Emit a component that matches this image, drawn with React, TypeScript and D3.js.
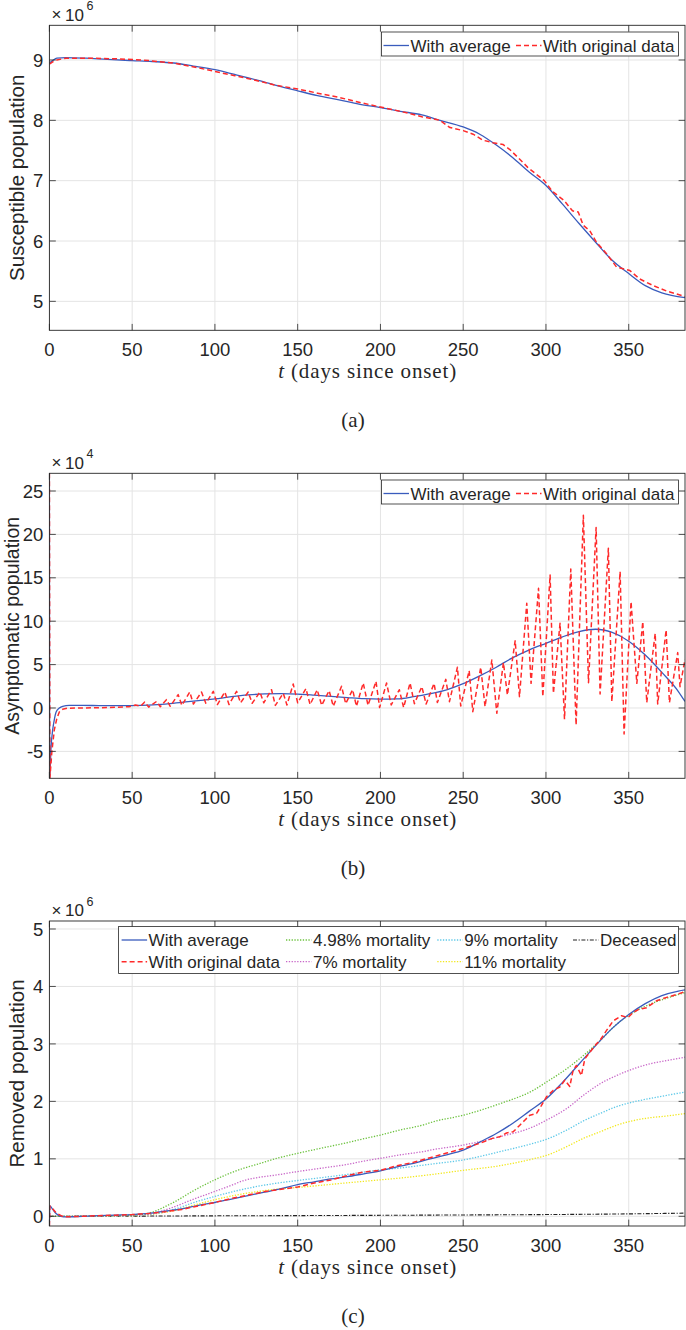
import React from 'react';
import * as d3 from 'd3';

// ---------- shared axis data ----------
const X_TICKS = [0, 50, 100, 150, 200, 250, 300, 350];
const X_MAX = 384;

// ---------- panel (a): susceptible (x10^6) ----------
const A_Y_TICKS = [5, 6, 7, 8, 9];
const A_AVG_T = [0, 2, 4.5, 10, 22, 35, 50, 62, 75, 87, 100, 112, 125, 137, 150, 162, 175, 187, 200, 212, 225, 236, 250, 260, 270, 280, 290, 300, 310, 320, 330, 340, 350, 360, 370, 384];
const A_AVG_V = [8.95, 8.99, 9.03, 9.04, 9.03, 9.01, 8.99, 8.975, 8.95, 8.9, 8.84, 8.76, 8.67, 8.58, 8.49, 8.41, 8.34, 8.27, 8.21, 8.15, 8.09, 8.0, 7.89, 7.77, 7.59, 7.38, 7.14, 6.92, 6.61, 6.29, 5.98, 5.68, 5.46, 5.26, 5.14, 5.06];
const A_ORIG_T = [0, 2, 4.5, 10, 25, 40, 50, 60, 75, 90, 100, 112, 125, 137, 150, 162, 175, 187, 200, 212, 225, 236, 242, 250, 256, 262, 268, 274, 278, 284, 289, 294, 299, 304, 311, 316, 319.5, 322.5, 326.5, 330.5, 336.6, 342.6, 346.6, 350.7, 356.7, 364.8, 372.9, 384];
const A_ORIG_V = [8.93, 8.97, 9.0, 9.03, 9.03, 9.02, 9.01, 8.99, 8.95, 8.87, 8.81, 8.74, 8.66, 8.58, 8.52, 8.45, 8.38, 8.3, 8.22, 8.15, 8.06, 8.0, 7.88, 7.83, 7.77, 7.67, 7.63, 7.6, 7.52, 7.36, 7.22, 7.11, 7.0, 6.82, 6.67, 6.5, 6.48, 6.26, 6.17, 5.98, 5.79, 5.57, 5.54, 5.51, 5.37, 5.26, 5.17, 5.08];

// ---------- panel (b): asymptomatic (x10^4) ----------
const B_Y_TICKS = [-5, 0, 5, 10, 15, 20, 25];
const B_AVG_T = [0, 0.2, 1, 2, 3, 4, 6, 8, 12, 20, 30, 40, 50, 60, 70, 80, 90, 100, 110, 120, 130, 140, 150, 160, 170, 180, 190, 200, 210, 220, 230, 240, 250, 260, 270, 280, 290, 300, 310, 320, 330, 340, 350, 360, 370, 380, 384];
const B_AVG_V = [27.04, -8.1, -4.5, -2.5, -1.3, -0.5, 0.0, 0.2, 0.3, 0.3, 0.28, 0.27, 0.28, 0.33, 0.45, 0.65, 0.85, 1.05, 1.3, 1.5, 1.62, 1.65, 1.6, 1.48, 1.34, 1.2, 1.07, 1.02, 1.05, 1.3, 1.65, 2.1, 2.8, 3.7, 4.7, 5.8, 6.7, 7.45, 8.2, 8.8, 9.07, 8.7, 7.7, 6.1, 4.1, 1.9, 0.75];
const B_ORIG_T = [0, 0.3, 1.5, 3, 4.5, 6, 8, 11, 20, 30, 40, 48, 52, 55, 57.6, 60, 64.7, 67, 70.7, 73, 77.8, 80, 84.8, 87, 91.9, 94.5, 99, 101.5, 106, 108.5, 113.1, 115.5, 120.1, 122.5, 127.2, 129.5, 134.2, 136.5, 141.3, 143.5, 147.3, 150, 155, 157.5, 161.8, 164.5, 169, 171.5, 176.5, 179, 183.2, 185.5, 189.6, 192.5, 197.3, 199.5, 203.7, 206.5, 211.4, 214, 217.9, 220.5, 225, 227.6, 232.4, 234.4, 239.5, 241.7, 246.5, 248.5, 253.6, 255.8, 260.6, 263.2, 267.3, 270.3, 274.3, 276.7, 281.4, 284, 288.4, 291, 295.5, 298.1, 302.5, 304.5, 308.5, 311.2, 315, 318.2, 322.6, 325.7, 330.3, 332.7, 337.7, 339.8, 344.8, 347.2, 351.4, 354.9, 358.5, 360.9, 366, 367.5, 372.6, 374.6, 379.6, 381, 384];
const B_ORIG_V = [27.04, -8.1, -5.0, -2.5, -1.2, -0.45, -0.15, -0.02, 0.0, 0.03, 0.08, 0.15, 0.35, 0.2, 0.69, 0.1, 0.75, 0.15, 0.96, 0.2, 1.54, 0.3, 1.84, 0.45, 1.84, 0.55, 1.92, 0.4, 1.84, 0.4, 1.92, 0.6, 1.84, 0.55, 1.84, 0.6, 2.11, 0.3, 1.7, 0.35, 2.76, 0.6, 2.23, 0.4, 2.1, 0.3, 2.0, 0.2, 2.5, 0.5, 2.1, 0.2, 2.88, 0.3, 3.07, 0.05, 2.88, 0.35, 2.1, 0.05, 2.88, 0.5, 2.46, 0.46, 2.84, 0.62, 3.3, 0.73, 4.69, 0.23, 4.3, -0.42, 4.69, 0.16, 5.53, -0.61, 5.23, 1.5, 7.76, 1.31, 12.06, 2.84, 13.79, 1.31, 15.32, 1.69, 9.76, -1.3, 16.0, -1.96, 22.2, 2.92, 20.8, 1.62, 18.4, 0.73, 15.7, -3.0, 12.25, 2.84, 9.95, 0.62, 8.6, 0.46, 9.0, 0.62, 6.38, 2.46, 5.6];

// ---------- panel (c): removed (x10^6) ----------
const C_Y_TICKS = [0, 1, 2, 3, 4, 5];
const C_AVG_T = [0, 0.3, 2, 4, 7, 10, 20, 30, 40, 50, 60, 70, 80, 90, 100, 110, 120, 130, 140, 150, 160, 170, 180, 190, 200, 210, 220, 230, 240, 250, 260, 270, 280, 290, 300, 310, 320, 330, 340, 350, 360, 370, 380, 384];
const C_AVG_V = [-0.17, 0.18, 0.12, 0.05, 0.0, -0.01, 0.0, 0.01, 0.02, 0.03, 0.05, 0.09, 0.13, 0.19, 0.24, 0.3, 0.36, 0.42, 0.48, 0.55, 0.6, 0.65, 0.69, 0.74, 0.79, 0.86, 0.92, 1.0, 1.07, 1.15, 1.29, 1.44, 1.62, 1.83, 2.04, 2.33, 2.65, 2.97, 3.27, 3.51, 3.7, 3.84, 3.92, 3.94];
const C_ORIG_T = [0, 0.3, 2, 4, 7, 10, 20, 40, 50, 60, 70, 80, 90, 100, 110, 120, 130, 140, 150, 160, 170, 180, 190, 200, 210, 220, 230, 240, 250, 260, 268, 272.2, 276.2, 280.2, 284.2, 287.2, 290.3, 294.3, 297.3, 300.3, 304.3, 308.4, 311.4, 314.4, 316.4, 318.4, 321.4, 323.5, 326.5, 330.5, 332.5, 336.5, 340.6, 345.6, 349.6, 352.7, 356, 360.8, 366.8, 372.9, 379, 384];
const C_ORIG_V = [-0.17, 0.18, 0.13, 0.06, 0.01, -0.01, 0.0, 0.02, 0.03, 0.05, 0.08, 0.12, 0.18, 0.24, 0.31, 0.37, 0.43, 0.47, 0.51, 0.58, 0.63, 0.71, 0.77, 0.8, 0.88, 0.94, 1.02, 1.1, 1.18, 1.27, 1.36, 1.385, 1.45, 1.47, 1.586, 1.673, 1.76, 1.79, 1.93, 2.08, 2.19, 2.25, 2.37, 2.26, 2.54, 2.625, 2.45, 2.74, 2.855, 3.0, 3.057, 3.23, 3.4, 3.49, 3.46, 3.547, 3.6, 3.63, 3.75, 3.81, 3.86, 3.91];
const C_M498_T = [0, 10, 50, 62, 70, 76.2, 86.3, 100, 110, 117.5, 125, 137.6, 150, 165, 178, 190, 200, 211.6, 226.5, 231.8, 250, 272.2, 292.3, 300.3, 312.5, 322.6, 332.7, 342.8, 352.8, 362.8, 372.9, 384];
const C_M498_V = [0, 0, 0.02, 0.07, 0.17, 0.26, 0.433, 0.635, 0.76, 0.837, 0.9, 1.01, 1.096, 1.19, 1.269, 1.35, 1.414, 1.5, 1.595, 1.644, 1.759, 1.96, 2.192, 2.336, 2.567, 2.797, 3.057, 3.345, 3.547, 3.691, 3.795, 3.893];
const C_M7_T = [0, 10, 50, 62, 70, 76.2, 86.3, 100, 110, 117.5, 125, 137.6, 150, 165, 178, 190, 200, 211.6, 226.5, 231.8, 250, 272.2, 292.3, 300.3, 312.5, 322.6, 332.7, 342.8, 352.8, 362.8, 372.9, 384];
const C_M7_V = [0, 0, 0.015, 0.047, 0.11, 0.174, 0.289, 0.433, 0.54, 0.623, 0.67, 0.721, 0.779, 0.84, 0.894, 0.96, 1.01, 1.067, 1.13, 1.16, 1.24, 1.385, 1.558, 1.673, 1.875, 2.105, 2.307, 2.451, 2.567, 2.653, 2.711, 2.769];
const C_M9_T = [0, 10, 50, 62, 70, 76.2, 86.3, 100, 117.5, 137.6, 150, 178, 200, 211.6, 231.8, 250, 272.2, 292.3, 300.3, 312.5, 322.6, 332.7, 342.8, 352.8, 362.8, 372.9, 384];
const C_M9_V = [0, 0, 0.012, 0.04, 0.08, 0.127, 0.231, 0.346, 0.473, 0.577, 0.623, 0.721, 0.808, 0.84, 0.912, 0.981, 1.125, 1.27, 1.34, 1.5, 1.66, 1.79, 1.91, 1.99, 2.05, 2.105, 2.163];
const C_M11_T = [0, 10, 50, 62, 70, 76.2, 86.3, 100, 117.5, 137.6, 150, 178, 200, 211.6, 231.8, 250, 272.2, 292.3, 300.3, 312.5, 322.6, 332.7, 342.8, 352.8, 362.8, 372.9, 384];
const C_M11_V = [0, 0, 0.01, 0.035, 0.07, 0.104, 0.185, 0.289, 0.393, 0.473, 0.502, 0.577, 0.635, 0.665, 0.73, 0.8, 0.88, 1.0, 1.06, 1.212, 1.356, 1.471, 1.586, 1.665, 1.715, 1.745, 1.788];
const C_DEC_T = [0, 50, 100, 150, 200, 250, 300, 350, 384];
const C_DEC_V = [0, 0.003, 0.008, 0.012, 0.017, 0.023, 0.03, 0.042, 0.055];

// ---------- styling ----------
const SANS = 'Liberation Sans, Arial, Helvetica, sans-serif';
const SERIF = 'Liberation Serif, Times New Roman, serif';
const AX = '#262626';
const GRID = '#e4e4e4';
const LEFT = 49.4;
const RIGHT = 685;
const PH = 305;

const BLUE = '#3a5cbd';
const RED = '#ff2a2a';
const GREEN = '#6cc23e';
const MAGENTA = '#c866c8';
const CYAN = '#5cc8e8';
const YELLOW = '#f2e81e';

type Style = { color: string; width: number; dash?: string; smooth: boolean };
type Series = { t: number[]; v: number[]; style: Style };
type LegendEntry = { label: string; style: Style; lx: number; row: number };

const S_AVG: Style = { color: BLUE, width: 1.3, smooth: true };
const S_ORIG: Style = { color: RED, width: 1.5, dash: '5,3', smooth: false };
const S_DOT = (c: string): Style => ({ color: c, width: 1.3, dash: '1.3,1.5', smooth: true });
const S_DEC: Style = { color: '#222', width: 1.1, dash: '4,1.6,1.2,1.6', smooth: true };

interface PanelProps {
  id: string;
  top: number;
  yDomain: [number, number];
  yTicks: number[];
  yLabel: string;
  yLabelX: number;
  yLabelSize: number;
  exponent: string;
  series: Series[];
  legendBox: [number, number, number, number];
  legend: LegendEntry[];
  caption: string;
}

function Panel(p: PanelProps) {
  const x = d3.scaleLinear().domain([0, X_MAX]).range([LEFT, RIGHT]);
  const y = d3.scaleLinear().domain(p.yDomain).range([p.top + PH, p.top]);
  const bottom = p.top + PH;
  const tickLen = 6.4;
  const mkLine = (s: Series) => {
    const pts: [number, number][] = s.t.map((t, i) => [t, s.v[i]]);
    return (
      d3
        .line<[number, number]>()
        .x((d) => x(d[0]))
        .y((d) => y(d[1]))
        .curve(s.style.smooth ? d3.curveMonotoneX : d3.curveLinear)(pts) || ''
    );
  };
  const [bx, by, bw, bh] = p.legendBox;
  const rowH = 21.7;
  return (
    <g>
      <defs>
        <clipPath id={`clip-${p.id}`}>
          <rect x={LEFT} y={p.top} width={RIGHT - LEFT} height={PH} />
        </clipPath>
      </defs>
      <rect x={LEFT} y={p.top} width={RIGHT - LEFT} height={PH} fill="#fff" />
      {/* grid */}
      {X_TICKS.map((t) => (
        <line key={`gx${t}`} x1={x(t)} x2={x(t)} y1={p.top} y2={bottom} stroke={GRID} strokeWidth={1} />
      ))}
      {p.yTicks.map((v) => (
        <line key={`gy${v}`} x1={LEFT} x2={RIGHT} y1={y(v)} y2={y(v)} stroke={GRID} strokeWidth={1} />
      ))}
      {/* data */}
      <g clipPath={`url(#clip-${p.id})`}>
        {p.series.map((s, i) => (
          <path
            key={i}
            d={mkLine(s)}
            fill="none"
            stroke={s.style.color}
            strokeWidth={s.style.width}
            strokeDasharray={s.style.dash}
            strokeLinejoin="round"
          />
        ))}
      </g>
      {/* ticks */}
      {X_TICKS.map((t) => (
        <g key={`tx${t}`}>
          <line x1={x(t)} x2={x(t)} y1={bottom} y2={bottom - tickLen} stroke={AX} strokeWidth={0.8} />
          <line x1={x(t)} x2={x(t)} y1={p.top} y2={p.top + tickLen} stroke={AX} strokeWidth={0.8} />
          <text x={x(t)} y={bottom + 25.5} textAnchor="middle" fontFamily={SANS} fontSize={18.5} fill={AX}>
            {t}
          </text>
        </g>
      ))}
      {p.yTicks.map((v) => (
        <g key={`ty${v}`}>
          <line x1={LEFT} x2={LEFT + tickLen} y1={y(v)} y2={y(v)} stroke={AX} strokeWidth={0.8} />
          <line x1={RIGHT} x2={RIGHT - tickLen} y1={y(v)} y2={y(v)} stroke={AX} strokeWidth={0.8} />
          <text x={LEFT - 6} y={y(v) + 6.6} textAnchor="end" fontFamily={SANS} fontSize={18.5} fill={AX}>
            {v}
          </text>
        </g>
      ))}
      {/* box */}
      <rect x={LEFT} y={p.top} width={RIGHT - LEFT} height={PH} fill="none" stroke={AX} strokeWidth={0.9} />
      {/* exponent */}
      <text x={51.5} y={p.top - 5} fontFamily={SANS} fontSize={17} fill={AX}>
        ×
      </text>
      <text x={65} y={p.top - 4.8} fontFamily={SANS} fontSize={17} fill={AX}>
        10
      </text>
      <text x={86.5} y={p.top - 15.5} fontFamily={SANS} fontSize={12.5} fill={AX}>
        {p.exponent}
      </text>
      {/* y label */}
      <text
        transform={`translate(${p.yLabelX},${p.top + PH / 2}) rotate(-90)`}
        textAnchor="middle"
        fontFamily={SANS}
        fontSize={p.yLabelSize}
        fill={AX}
      >
        {p.yLabel}
      </text>
      {/* x label */}
      <text
        x={(LEFT + RIGHT) / 2}
        y={bottom + 48}
        textAnchor="middle"
        fontFamily={SERIF}
        fontSize={21}
        fill={AX}
        textLength={178}
        lengthAdjust="spacing"
      >
        <tspan fontStyle="italic">t</tspan> (days since onset)
      </text>
      {/* caption */}
      <text x={353} y={bottom + 97} textAnchor="middle" fontFamily={SERIF} fontSize={21} fill={AX}>
        {p.caption}
      </text>
      {/* legend */}
      <rect x={bx} y={by} width={bw} height={bh} fill="#fff" stroke={AX} strokeWidth={0.8} />
      {p.legend.map((e, i) => {
        const cy = by + 13.5 + e.row * rowH;
        return (
          <g key={`lg${i}`}>
            <line
              x1={e.lx}
              x2={e.lx + 25.5}
              y1={cy}
              y2={cy}
              stroke={e.style.color}
              strokeWidth={e.style.width}
              strokeDasharray={e.style.dash}
            />
            <text x={e.lx + 27} y={cy + 6} fontFamily={SANS} fontSize={17} fill={AX}>
              {e.label}
            </text>
          </g>
        );
      })}
    </g>
  );
}

export default function App() {
  const panels: PanelProps[] = [
    {
      id: 'a',
      top: 25.3,
      yDomain: [4.52, 9.575],
      yTicks: A_Y_TICKS,
      yLabel: 'Susceptible population',
      yLabelX: 24,
      yLabelSize: 20.5,
      exponent: '6',
      series: [
        { t: A_AVG_T, v: A_AVG_V, style: S_AVG },
        { t: A_ORIG_T, v: A_ORIG_V, style: S_ORIG },
      ],
      legendBox: [381.5, 32, 297, 24],
      legend: [
        { label: 'With average', style: S_AVG, lx: 383.5, row: 0 },
        { label: 'With original data', style: S_ORIG, lx: 516, row: 0 },
      ],
      caption: '(a)',
    },
    {
      id: 'b',
      top: 473.3,
      yDomain: [-8.1, 27.04],
      yTicks: B_Y_TICKS,
      yLabel: 'Asymptomatic population',
      yLabelX: 18.8,
      yLabelSize: 19.5,
      exponent: '4',
      series: [
        { t: B_AVG_T, v: B_AVG_V, style: S_AVG },
        { t: B_ORIG_T, v: B_ORIG_V, style: S_ORIG },
      ],
      legendBox: [381.5, 480, 297, 24],
      legend: [
        { label: 'With average', style: S_AVG, lx: 383.5, row: 0 },
        { label: 'With original data', style: S_ORIG, lx: 516, row: 0 },
      ],
      caption: '(b)',
    },
    {
      id: 'c',
      top: 921,
      yDomain: [-0.169, 5.139],
      yTicks: C_Y_TICKS,
      yLabel: 'Removed population',
      yLabelX: 24,
      yLabelSize: 20.5,
      exponent: '6',
      series: [
        { t: C_DEC_T, v: C_DEC_V, style: S_DEC },
        { t: C_M11_T, v: C_M11_V, style: S_DOT(YELLOW) },
        { t: C_M9_T, v: C_M9_V, style: S_DOT(CYAN) },
        { t: C_M7_T, v: C_M7_V, style: S_DOT(MAGENTA) },
        { t: C_M498_T, v: C_M498_V, style: S_DOT(GREEN) },
        { t: C_AVG_T, v: C_AVG_V, style: S_AVG },
        { t: C_ORIG_T, v: C_ORIG_V, style: S_ORIG },
      ],
      legendBox: [118.6, 926.5, 560, 47],
      legend: [
        { label: 'With average', style: S_AVG, lx: 121.6, row: 0 },
        { label: 'With original data', style: S_ORIG, lx: 121.6, row: 1 },
        { label: '4.98% mortality', style: S_DOT(GREEN), lx: 286, row: 0 },
        { label: '7% mortality', style: S_DOT(MAGENTA), lx: 286, row: 1 },
        { label: '9% mortality', style: S_DOT(CYAN), lx: 437.3, row: 0 },
        { label: '11% mortality', style: S_DOT(YELLOW), lx: 437.3, row: 1 },
        { label: 'Deceased', style: S_DEC, lx: 573, row: 0 },
      ],
      caption: '(c)',
    },
  ];
  return (
    <div style={{ position: 'absolute', left: 0, top: 0, width: 686, height: 1330, overflow: 'hidden', background: '#fff' }}>
      <svg width={686} height={1330} viewBox="0 0 686 1330" style={{ display: 'block' }}>
        <rect x={0} y={0} width={686} height={1330} fill="#fff" />
        {panels.map((p) => (
          <Panel key={p.id} {...p} />
        ))}
      </svg>
    </div>
  );
}
